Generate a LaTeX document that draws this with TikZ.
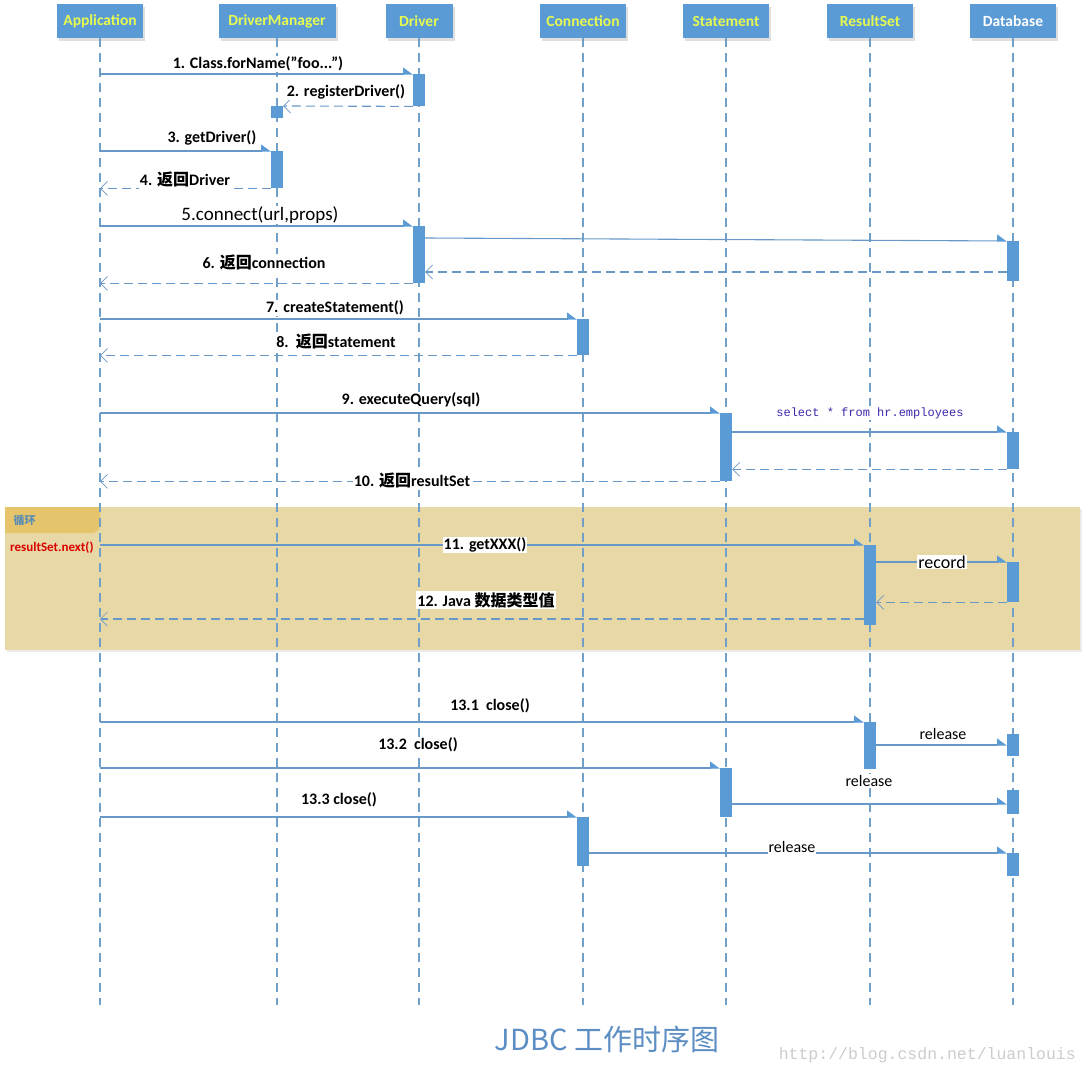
\documentclass[tikz,border=0pt]{standalone}
\usepackage{fontspec}
\setmainfont{Carlito}
\newfontfamily\cjkf{Noto Sans CJK SC}
\newfontfamily\monof{Liberation Mono}
\usetikzlibrary{arrows.meta,shadows,calc}
\definecolor{barc}{RGB}{91,155,213}
\definecolor{headtxt}{RGB}{230,250,80}
\definecolor{lifec}{RGB}{112,160,200}
\definecolor{msgc}{RGB}{104,152,200}
\definecolor{loopc}{RGB}{232,216,166}
\definecolor{tabc}{RGB}{229,196,108}
\definecolor{loopblue}{RGB}{90,140,180}
\definecolor{titlec}{RGB}{92,142,195}
\definecolor{sqlc}{RGB}{60,40,170}
\tikzset{
  head/.style={fill=barc, draw=none, minimum height=34pt, inner sep=0pt,
    font=\bfseries\fontsize{15.5}{17}\selectfont, text=headtxt,
    drop shadow={shadow xshift=2pt, shadow yshift=-3pt, opacity=0.25}},
  life/.style={draw=lifec, line width=1.3pt, dash pattern=on 9pt off 6pt},
  actbar/.style={fill=barc, draw=none, minimum width=12pt, inner sep=0pt, anchor=north},
  call/.style={draw=msgc, line width=1.1pt, -{Triangle[left,length=9pt,width=13pt,fill=barc,color=barc]}},
  ret/.style={draw=msgc, line width=1.1pt, dash pattern=on 9pt off 5pt, -{Straight Barb[length=7pt,width=14pt,line width=0.7pt]}},
  lbl/.style={fill=white, inner sep=1pt, font=\bfseries\fontsize{16}{18}\selectfont},
  rlbl/.style={fill=white, inner sep=1pt, font=\fontsize{16}{18}\selectfont}
}
\begin{document}
\begin{tikzpicture}[x=1pt,y=-1pt]
\useasboundingbox (0,0) rectangle (1087,1075);
% loop region
\fill[black!8] (7,509) rectangle (1082,652);
\fill[loopc] (5,507) rectangle (1080,650);
\fill[tabc] (5,507) -- (100,507) -- (100,525) arc[start angle=0, end angle=90, radius=8] -- (5,533) -- cycle;
\node[font=\cjkf\bfseries\fontsize{11}{13}\selectfont, text=loopblue, anchor=west] (looptag) at (10,520) {循环};
\node[font=\bfseries\fontsize{13}{15}\selectfont, text=red!85!black, anchor=west, inner sep=0pt] (guard) at (10,548) {resultSet.next()};
% heads
\node[head, minimum width=86pt] (app) at (100,21) {Application};
\node[head, minimum width=117pt] (dm) at (277,21) {DriverManager};
\node[head, minimum width=67pt] (drv) at (419,21) {Driver};
\node[head, minimum width=86pt] (con) at (583,21) {Connection};
\node[head, minimum width=86pt] (stm) at (726,21) {Statement};
\node[head, minimum width=86pt] (rs) at (870,21) {ResultSet};
\node[head, minimum width=86pt, text=white] (db) at (1013,21) {Database};
% lifelines
\foreach \n in {app,dm,drv,con,stm,rs,db}{
  \draw[life] (\n.south) -- (\n.south |- 0,1005);
}
% activation bars
\node[actbar, minimum height=32pt] (b1) at (419,74) {};
\node[actbar, minimum height=12pt] (b2) at (277,106) {};
\node[actbar, minimum height=37pt] (b3) at (277,151) {};
\node[actbar, minimum height=57pt] (b4) at (419,226) {};
\node[actbar, minimum height=40pt] (b5) at (1013,241) {};
\node[actbar, minimum height=36pt] (b6) at (583,319) {};
\node[actbar, minimum height=68pt] (b7) at (726,413) {};
\node[actbar, minimum height=37pt] (b8) at (1013,432) {};
\node[actbar, minimum height=80pt] (b9) at (870,545) {};
\node[actbar, minimum height=40pt] (b10) at (1013,562) {};
\node[actbar, minimum height=47pt] (b11) at (870,722) {};
\node[actbar, minimum height=22pt] (b12) at (1013,734) {};
\node[actbar, minimum height=49pt] (b13) at (726,768) {};
\node[actbar, minimum height=24pt] (b14) at (1013,790) {};
\node[actbar, minimum height=49pt] (b15) at (583,817) {};
\node[actbar, minimum height=23pt] (b16) at (1013,853) {};
% messages
\draw[call] (app |- b1.north west) -- (b1.north west);
\draw[ret] (b1.south west) -- (b2.north east);
\draw[call] (app |- b3.north west) -- (b3.north west);
\draw[ret] (b3.south west) -- (app |- b3.south west);
\draw[call] (app |- b4.north west) -- (b4.north west);
\draw[call] (b4.north east |- 0,238) -- (b5.north west);
\draw[ret] (b5.west |- 0,272) -- (b4.east |- 0,272);
\draw[ret] (b4.south west) -- (app |- b4.south west);
\draw[call] (app |- b6.north west) -- (b6.north west);
\draw[ret] (b6.south west) -- (app |- b6.south west);
\draw[call] (app |- b7.north west) -- (b7.north west);
\draw[call] (b7.east |- b8.north west) -- (b8.north west);
\draw[ret] (b8.south west) -- (b7.east |- b8.south west);
\draw[ret] (b7.south west) -- (app |- b7.south west);
\draw[call] (app |- b9.north west) -- (b9.north west);
\draw[call] (b9.east |- b10.north west) -- (b10.north west);
\draw[ret] (b10.south west) -- (b9.east |- b10.south west);
\draw[ret] (b9.west |- 0,619) -- (app |- 0,619);
\draw[call] (app |- b11.north west) -- (b11.north west);
\draw[call] (b11.east |- 0,745) -- (b12.west |- 0,745);
\draw[call] (app |- b13.north west) -- (b13.north west);
\draw[call] (b13.east |- 0,804) -- (b14.west |- 0,804);
\draw[call] (app |- b15.north west) -- (b15.north west);
\draw[call] (b15.east |- b16.north west) -- (b16.north west);
% bars on top
\foreach \b in {b1,b2,b3,b4,b5,b6,b7,b8,b9,b10,b11,b12,b13,b14,b15,b16}{
  \fill[barc] (\b.north west) rectangle (\b.south east);
}
% labels
\node[lbl] (l1) at (258,64) {1. Class.forName(\char34 foo...\char34)};
\node[lbl] (l2) at (346,92) {2. registerDriver()};
\node[lbl] (l3) at (212,138) {3. getDriver()};
\node[lbl] (l4) at (185,180) {4. {\cjkf 返回}Driver};
\node[rlbl, font=\fontsize{19}{21}\selectfont] (l5) at (260,215) {5.connect(url,props)};
\node[lbl] (l6) at (264,263) {6. {\cjkf 返回}connection};
\node[lbl] (l7) at (335,308) {7. createStatement()};
\node[lbl] (l8) at (336,342) {8.\ \ {\cjkf 返回}statement};
\node[lbl] (l9) at (411,400) {9. executeQuery(sql)};
\node[font=\monof\fontsize{12}{14}\selectfont, text=sqlc, fill=white, inner sep=1pt] (sql) at (870,413) {select * from hr.employees};
\node[lbl] (l10) at (412,481) {10. {\cjkf 返回}resultSet};
\node[lbl] (l11) at (485,545) {11. getXXX()};
\node[rlbl, font=\fontsize{18}{20}\selectfont] (rec) at (942,562) {record};
\node[lbl] (l12) at (486,600) {12. Java {\cjkf 数据类型值}};
\node[lbl] (l131) at (490,706) {13.1\ \ close()};
\node[rlbl] (rel1) at (943,734) {release};
\node[lbl] (l132) at (418,745) {13.2\ \ close()};
\node[rlbl] (rel2) at (869,781) {release};
\node[lbl] (l133) at (339,800) {13.3 close()};
\node[rlbl] (rel3) at (792,847) {release};
% title and watermark
\node[font=\cjkf\fontsize{29}{33}\selectfont, text=titlec] (title) at (607,1039) {JDBC 工作时序图};
\node[font=\monof\fontsize{16.5}{18}\selectfont, text=black!20, anchor=east, inner sep=0pt] (wm) at (1076,1055) {http://blog.csdn.net/luanlouis};
\end{tikzpicture}
\end{document}
